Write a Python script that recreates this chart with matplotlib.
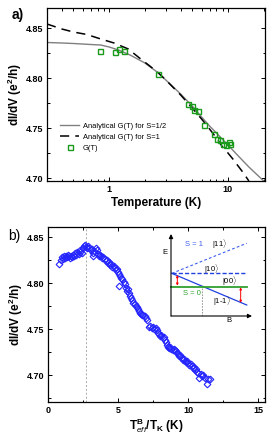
import matplotlib
matplotlib.use("Agg")
import matplotlib.pyplot as plt
from matplotlib.ticker import MultipleLocator, LogLocator, NullFormatter, FixedLocator, FixedFormatter

plt.rcParams['font.family'] = ['Liberation Sans', 'DejaVu Sans']
plt.rcParams['mathtext.fontset'] = 'custom'
plt.rcParams['mathtext.rm'] = 'Liberation Sans'
plt.rcParams['mathtext.it'] = 'Liberation Sans:italic'
plt.rcParams['mathtext.bf'] = 'Liberation Sans:bold'

# ---------------- Panel a data ----------------
T_meas = [0.845, 1.11, 1.21, 1.34, 2.58, 4.65, 5.0, 5.2, 5.56, 6.25, 7.67, 8.1, 8.55, 9.1, 9.6, 10.3, 10.4]
G_meas = [4.827, 4.826, 4.829, 4.827, 4.804, 4.774, 4.772, 4.768, 4.767, 4.753, 4.744, 4.739, 4.738, 4.734, 4.733, 4.736, 4.734]

T_half = [0.3, 0.4, 0.5, 0.7, 0.85, 1.0, 1.2, 1.5, 2.0, 2.6, 3.0, 4.0, 5.0, 6.0, 7.0, 8.0, 10.0, 12.0, 15.0, 20.0]
G_half = [4.8355, 4.835, 4.8345, 4.8335, 4.833, 4.831, 4.828, 4.823, 4.815, 4.805, 4.798, 4.784, 4.772, 4.761, 4.752, 4.745, 4.733, 4.723, 4.711, 4.697]

T_one = [0.3, 0.4, 0.5, 0.65, 0.85, 1.1, 1.45, 1.8, 2.2, 2.6, 3.0, 4.0, 5.0, 6.0, 7.0, 8.0, 9.0, 10.0, 11.0, 12.0, 13.5, 15.0]
G_one = [4.854, 4.849, 4.846, 4.8435, 4.839, 4.835, 4.829, 4.820, 4.812, 4.805, 4.798, 4.783, 4.770, 4.759, 4.749, 4.740, 4.731, 4.725, 4.719, 4.713, 4.705, 4.697]

# ---------------- Panel b data ----------------
x_b = [0.81, 0.9, 0.98, 1.05, 1.12, 1.2, 1.28, 1.35, 1.42, 1.5, 1.58, 1.65, 1.72, 1.8, 1.88, 1.95,
       2.02, 2.1, 2.18, 2.25, 2.32, 2.4, 2.48, 2.56, 2.64, 2.72, 2.8, 2.88, 2.96, 3.04, 3.12, 3.2,
       3.24, 3.32, 3.4, 3.48, 3.56, 3.64, 3.72, 3.8, 3.88, 3.96, 4.04, 4.12, 4.2, 4.28, 4.36, 4.44,
       4.52, 4.6, 4.68, 4.76, 4.84, 4.92, 5.0, 5.08, 5.1, 5.16, 5.24, 5.32, 5.4, 5.48, 5.56, 5.62,
       5.7, 5.78, 5.86, 5.94, 6.02, 6.1, 6.18, 6.26, 6.34, 6.42, 6.5, 6.58, 6.66, 6.74, 6.82, 6.9,
       6.98, 7.06, 7.2, 7.3, 7.4, 7.5, 7.6, 7.7, 7.78, 7.86, 7.94, 8.02, 8.1, 8.18, 8.26, 8.34,
       8.42, 8.5, 8.58, 8.66, 8.74, 8.82, 8.9, 8.98, 9.06, 9.14, 9.22, 9.3, 9.38, 9.46, 9.54, 9.62,
       9.7, 9.78, 9.86, 9.94, 10.02, 10.1, 10.18, 10.26, 10.34, 10.42, 10.5, 10.58, 10.66, 10.74,
       10.8, 10.9, 11.0, 11.1, 11.2, 11.33, 11.45, 11.57]
G_b = [4.821, 4.825, 4.828, 4.826, 4.829, 4.827, 4.830, 4.828, 4.831, 4.829, 4.827, 4.830, 4.828, 4.831, 4.829, 4.833,
       4.831, 4.834, 4.832, 4.836, 4.834, 4.833, 4.838, 4.840, 4.842, 4.839, 4.838, 4.840, 4.838, 4.836, 4.837, 4.833,
       4.829, 4.835, 4.838, 4.836, 4.832, 4.830, 4.831, 4.829, 4.827, 4.828, 4.826, 4.824, 4.825, 4.822, 4.823, 4.820,
       4.821, 4.818, 4.819, 4.816, 4.814, 4.815, 4.812, 4.810, 4.797, 4.808, 4.806, 4.804, 4.801, 4.799, 4.795, 4.791,
       4.794, 4.789, 4.786, 4.784, 4.782, 4.779, 4.777, 4.775, 4.774, 4.772, 4.770, 4.768, 4.767, 4.765, 4.766, 4.764,
       4.762, 4.760, 4.752, 4.753, 4.751, 4.752, 4.750, 4.751, 4.749, 4.746, 4.745, 4.743, 4.744, 4.741, 4.742, 4.738,
       4.736, 4.733, 4.731, 4.730, 4.731, 4.729, 4.728, 4.729, 4.727, 4.726, 4.724, 4.723, 4.721, 4.722, 4.719, 4.717,
       4.718, 4.716, 4.714, 4.715, 4.713, 4.711, 4.712, 4.710, 4.708, 4.709, 4.706, 4.707, 4.704, 4.703,
       4.697, 4.701, 4.699, 4.700, 4.697, 4.691, 4.696, 4.696]
x_peak = 2.7

# inset schematic (normalized E-B units)
B_lev = [0.01, 0.935]
E_10 = [0.52, 0.52]
E_11 = [0.52, 0.887]
E_1m1 = [0.52, 0.134]
E_00 = [0.357, 0.357]

W, H = 267, 436
fig = plt.figure(figsize=(W / 100, H / 100), dpi=100)

def frac(x0, y0, x1, y1):
    return [x0 / W, 1 - y1 / H, (x1 - x0) / W, (y1 - y0) / H]

tick_fs = 6.5
lab_fs = 8.5

# ---------------- Panel a ----------------
ax1 = fig.add_axes(frac(47, 8, 265, 181))
ax1.plot(T_half, G_half, color='#808080', lw=1.0, label='Analytical G(T) for S=1/2')
ax1.plot(T_one, G_one, color='black', lw=1.1, ls=(0, (6, 4)), label='Analytical G(T) for S=1')
ax1.plot(T_meas, G_meas, ls='none', marker='s', ms=3.6, mfc='none', mec='#1a9a1a', mew=1.0, label='G(T)')
ax1.set_xscale('log')
ax1.set_xlim(0.3, 20.5)
ax1.set_ylim(4.697, 4.870)
ax1.xaxis.set_major_locator(FixedLocator([1, 10]))
ax1.xaxis.set_major_formatter(FixedFormatter(['1', '10']))
ax1.xaxis.set_minor_locator(LogLocator(base=10, subs=range(2, 10)))
ax1.xaxis.set_minor_formatter(NullFormatter())
ax1.set_yticks([4.70, 4.75, 4.80, 4.85])
ax1.set_yticklabels(['4.70', '4.75', '4.80', '4.85'])
ax1.yaxis.set_minor_locator(MultipleLocator(0.025))
ax1.set_xlabel('Temperature (K)', fontsize=lab_fs, fontweight='bold', labelpad=2)
ax1.set_ylabel('dI/dV (e$^\\mathbf{2}$/h)', fontsize=lab_fs, fontweight='bold', labelpad=1)
leg = ax1.legend(loc='upper left', bbox_to_anchor=(0.045, 0.355), frameon=False, fontsize=5.4,
                 handlelength=2.6, labelspacing=0.5, handletextpad=0.5, borderaxespad=0)
ax1.text(-0.105, 1.0, 'a)', transform=ax1.transAxes, fontsize=10, fontweight='bold', va='top', ha='right')

# ---------------- Panel b ----------------
ax2 = fig.add_axes(frac(48, 227, 265, 402))
ax2.axvline(x_peak, color='#aaaaaa', lw=0.7, ls=(0, (2, 2)))
ax2.plot(x_b, G_b, ls='none', marker='D', ms=3.4, mfc='none', mec='#2424ff', mew=0.8)
ax2.set_xlim(0, 15.5)
ax2.set_ylim(4.671, 4.861)
ax2.set_xticks([0, 5, 10, 15])
ax2.xaxis.set_minor_locator(MultipleLocator(2.5))
ax2.set_yticks([4.70, 4.75, 4.80, 4.85])
ax2.set_yticklabels(['4.70', '4.75', '4.80', '4.85'])
ax2.yaxis.set_minor_locator(MultipleLocator(0.025))
ax2.set_xlabel(r'$\mathbf{T}^{\mathbf{B}}_{\mathit{eff}}\mathbf{/T_K}$ (K)', fontsize=lab_fs, fontweight='bold', labelpad=1)
ax2.set_ylabel('dI/dV (e$^\\mathbf{2}$/h)', fontsize=lab_fs, fontweight='bold', labelpad=1)
ax2.text(-0.125, 0.99, 'b)', transform=ax2.transAxes, fontsize=10, va='top', ha='right')

for ax in (ax1, ax2):
    ax.tick_params(which='both', direction='in', top=True, right=True, labelsize=tick_fs, width=0.7)
    ax.tick_params(which='major', length=3, pad=3)
    ax.tick_params(which='minor', length=1.8)
    for lbl in ax.get_xticklabels() + ax.get_yticklabels():
        lbl.set_fontweight('bold')
    for s in ax.spines.values():
        s.set_linewidth(0.9)

# ---------------- Inset schematic ----------------
ins = fig.add_axes(frac(171, 234, 252, 316))
ins.set_xlim(0, 1)
ins.set_ylim(0, 1)
ins.axis('off')
ins.annotate('', xy=(0, 1.0), xytext=(0, 0), xycoords='axes fraction',
             arrowprops=dict(arrowstyle='-|>', lw=0.8, color='black', mutation_scale=6, shrinkA=0, shrinkB=0), annotation_clip=False)
ins.annotate('', xy=(1.0, 0), xytext=(0, 0), xycoords='axes fraction',
             arrowprops=dict(arrowstyle='-|>', lw=0.8, color='black', mutation_scale=6, shrinkA=0, shrinkB=0), annotation_clip=False)
ins.plot(B_lev, E_10, color='#2040e0', lw=1.0, ls=(0, (3, 1.5)), clip_on=False)
ins.plot(B_lev, E_11, color='#4060f0', lw=0.8, ls=(0, (2.5, 2)), clip_on=False)
ins.plot(B_lev, E_1m1, color='#2040e0', lw=0.9, clip_on=False)
ins.plot([0.0, 0.935], E_00, color='#30a030', lw=1.3, clip_on=False)
ins.plot([0.386, 0.386], [0.0, 0.357], color='#888888', lw=0.6, ls=(0, (2, 1.5)))
ins.annotate('', xy=(0.078, 0.37), xytext=(0.078, 0.50),
             arrowprops=dict(arrowstyle='<|-|>', color='red', lw=0.7, mutation_scale=3, shrinkA=0, shrinkB=0))
ins.annotate('', xy=(0.86, 0.16), xytext=(0.86, 0.35),
             arrowprops=dict(arrowstyle='<|-|>', color='red', lw=0.7, mutation_scale=3, shrinkA=0, shrinkB=0))
fs_i = 5.5
ins.text(-0.07, 0.78, 'E', fontsize=fs_i, ha='center', va='center')
ins.text(0.72, -0.06, 'B', fontsize=fs_i, ha='center', va='center')
ins.text(0.17, 0.87, 'S = 1', fontsize=fs_i, color='#4060f0', ha='left', va='center')
ins.text(0.60, 0.87, r'$|11\rangle$', fontsize=fs_i, ha='center', va='center')
ins.text(0.50, 0.57, r'$|10\rangle$', fontsize=fs_i, ha='center', va='center')
ins.text(0.73, 0.42, r'$|00\rangle$', fontsize=fs_i, ha='center', va='center')
ins.text(0.15, 0.28, 'S = 0', fontsize=fs_i, color='#30a030', ha='left', va='center')
ins.text(0.63, 0.18, r'$|1\text{-}1\rangle$', fontsize=fs_i, ha='center', va='center')

fig.savefig('out.png', dpi=100)
